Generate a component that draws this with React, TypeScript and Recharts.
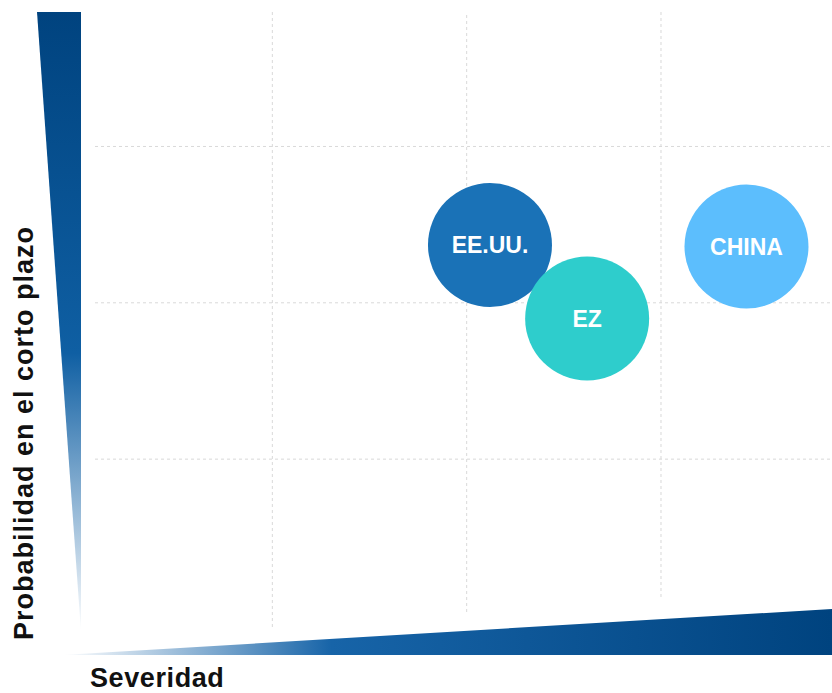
import React from "react";
import {
  ScatterChart,
  Scatter,
  XAxis,
  YAxis,
  ZAxis,
  ReferenceLine,
  LabelList,
  Customized,
} from "recharts";

// risk map data
const countries = ["EE.UU.", "EZ", "CHINA"];
const severity = [2.12, 2.62, 3.44];
const probability = [2.37, 1.9, 2.36];
const bubbleSize = [1, 1, 1];
const colors = ["#1a72b7", "#2ecdcc", "#5cbefd"];

const gridX = [1, 2, 3];
const gridY = [1, 2, 3];

const X_DOMAIN: [number, number] = [0, 3.88];
const Y_DOMAIN: [number, number] = [0, 3.86];

const W = 832;
const H = 693;
const MARGIN = { top: 12, right: 0, bottom: 77.5, left: 78 };
const FONT = "'Liberation Sans', Arial, sans-serif";

// pixel -> data helpers for grid line ends (they stop above the sloped axis)
const plotH = H - MARGIN.top - MARGIN.bottom;
const plotW = W - MARGIN.left - MARGIN.right;
const yFromPx = (py: number) =>
  ((H - MARGIN.bottom - py) / plotH) * (Y_DOMAIN[1] - Y_DOMAIN[0]) + Y_DOMAIN[0];
const xFromPx = (px: number) =>
  ((px - MARGIN.left) / plotW) * (X_DOMAIN[1] - X_DOMAIN[0]) + X_DOMAIN[0];
const vGridBottomPx = [627, 612, 597];

function Decor() {
  return (
    <g>
      <defs>
        <linearGradient id="yWedge" x1="0" y1="0" x2="0" y2="1">
          <stop offset="0%" stopColor="#00437f" />
          <stop offset="55%" stopColor="#0f5fa3" />
          <stop offset="100%" stopColor="#ffffff" />
        </linearGradient>
        <linearGradient id="xWedge" x1="0" y1="0" x2="1" y2="0">
          <stop offset="0%" stopColor="#ffffff" />
          <stop offset="35%" stopColor="#1764a8" />
          <stop offset="100%" stopColor="#00437f" />
        </linearGradient>
      </defs>
      <polygon points="37,12 81,12 81,632" fill="url(#yWedge)" />
      <polygon points="62,655 832,609 832,655" fill="url(#xWedge)" />
      <text
        x={90}
        y={687}
        fontFamily={FONT}
        fontSize={27}
        fontWeight="bold"
        letterSpacing={0.6}
        fill="#111"
      >
        Severidad
      </text>
      <text
        x={33}
        y={640}
        transform="rotate(-90, 33, 640)"
        fontFamily={FONT}
        fontSize={27}
        fontWeight="bold"
        letterSpacing={1}
        fill="#111"
      >
        Probabilidad en el corto plazo
      </text>
    </g>
  );
}

export default function App() {
  const series = countries.map((name, i) => ({
    name,
    color: colors[i],
    data: [{ x: severity[i], y: probability[i], z: bubbleSize[i], name }],
  }));

  return (
    <div style={{ position: "absolute", left: 0, top: 0, background: "#fff" }}>
      <ScatterChart width={W} height={H} margin={MARGIN} style={{ fontFamily: FONT }}>
        <Customized component={Decor} />
        <XAxis type="number" dataKey="x" domain={X_DOMAIN} hide />
        <YAxis type="number" dataKey="y" domain={Y_DOMAIN} hide />
        <ZAxis type="number" dataKey="z" range={[12076, 12076]} />
        {gridY.map((v) => (
          <ReferenceLine
            key={"h" + v}
            segment={[
              { x: xFromPx(95), y: v },
              { x: X_DOMAIN[1], y: v },
            ]}
            stroke="#d9d9d9"
            strokeDasharray="3 3"
            ifOverflow="visible"
          />
        ))}
        {gridX.map((v, i) => (
          <ReferenceLine
            key={"v" + v}
            segment={[
              { x: v, y: yFromPx(vGridBottomPx[i]) },
              { x: v, y: Y_DOMAIN[1] },
            ]}
            stroke="#d9d9d9"
            strokeDasharray="3 3"
            ifOverflow="visible"
          />
        ))}
        {series.map((s) => (
          <Scatter
            key={s.name}
            name={s.name}
            data={s.data}
            fill={s.color}
            isAnimationActive={false}
          >
            <LabelList
              dataKey="name"
              position="center"
              fill="#ffffff"
              fontSize={23}
              fontWeight="bold"
              fontFamily={FONT}
            />
          </Scatter>
        ))}
      </ScatterChart>
    </div>
  );
}
